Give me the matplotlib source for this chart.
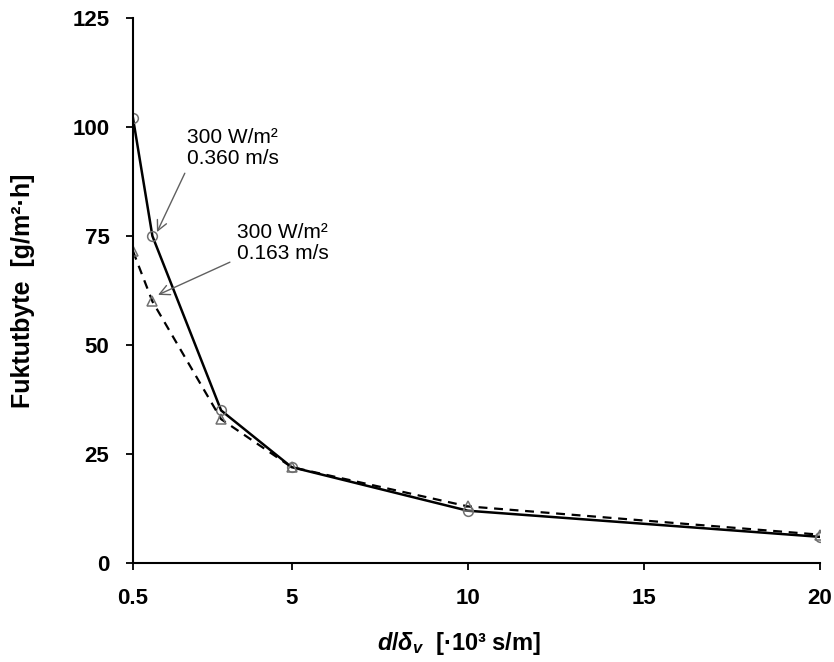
import matplotlib
matplotlib.use("Agg")
import matplotlib.pyplot as plt

plt.rcParams['font.family'] = ['Liberation Sans', 'DejaVu Sans']
plt.rcParams['mathtext.fontset'] = 'custom'
plt.rcParams['mathtext.it'] = 'Liberation Sans:italic:bold'
plt.rcParams['mathtext.rm'] = 'Liberation Sans:bold'
plt.rcParams['mathtext.bf'] = 'Liberation Sans:bold'

# data
x_vals = [0.5, 1.05, 3, 5, 10, 20]
y_fast = [102, 75, 35, 22, 12, 6]      # 0.360 m/s, circles
y_slow = [71.5, 60, 33, 22, 13, 6.5]   # 0.163 m/s, triangles
x_ticks = [0.5, 5, 10, 15, 20]
y_ticks = [0, 25, 50, 75, 100, 125]

fig = plt.figure(figsize=(8.34, 6.62), dpi=100)
ax = fig.add_axes([0.1595, 0.1495, 0.8237, 0.8233])

ax.plot(x_vals, y_fast, color='black', lw=1.8, marker='o', ms=7,
        mfc='none', mec='#707070', mew=1.1)
ax.plot(x_vals, y_slow, color='black', lw=1.6, ls=(0, (4, 3)), marker='^', ms=6.5,
        mfc='none', mec='#707070', mew=1.1)

ax.set_xlim(0.5, 20)
ax.set_ylim(0, 125)
ax.set_xticks(x_ticks)
ax.set_xticklabels(['0.5', '5', '10', '15', '20'])
ax.set_yticks(y_ticks)
for s in ['top', 'right']:
    ax.spines[s].set_visible(False)
for s in ['left', 'bottom']:
    ax.spines[s].set_linewidth(1.5)
ax.tick_params(axis='both', direction='out', length=5, width=1.3, labelsize=16)
ax.tick_params(axis='x', pad=13)
ax.tick_params(axis='y', pad=12)
for lab in ax.get_xticklabels() + ax.get_yticklabels():
    lab.set_fontweight('bold')

ax.set_ylabel('Fuktutbyte  [g/m²·h]', fontsize=18, fontweight='bold')
ax.yaxis.set_label_coords(-0.142, 0.5)
ax.set_xlabel(r'$d/\delta_v$  [·10³ s/m]', fontsize=17, fontweight='bold')
ax.xaxis.set_label_coords(0.475, -0.122)

# annotations
arrow = dict(arrowstyle='->', color='#606060', lw=1.0, shrinkA=0, shrinkB=0,
             mutation_scale=18)
ax.text(2.02, 95.2, '300 W/m²\n0.360 m/s', fontsize=15, va='center', ha='left',
        linespacing=1.1)
ax.annotate('', xy=(1.18, 75.9), xytext=(1.97, 89.4), arrowprops=arrow)
ax.text(3.45, 73.4, '300 W/m²\n0.163 m/s', fontsize=15, va='center', ha='left',
        linespacing=1.1)
ax.annotate('', xy=(1.21, 61.5), xytext=(3.25, 69.0), arrowprops=arrow)

fig.savefig('out.png', dpi=100)
